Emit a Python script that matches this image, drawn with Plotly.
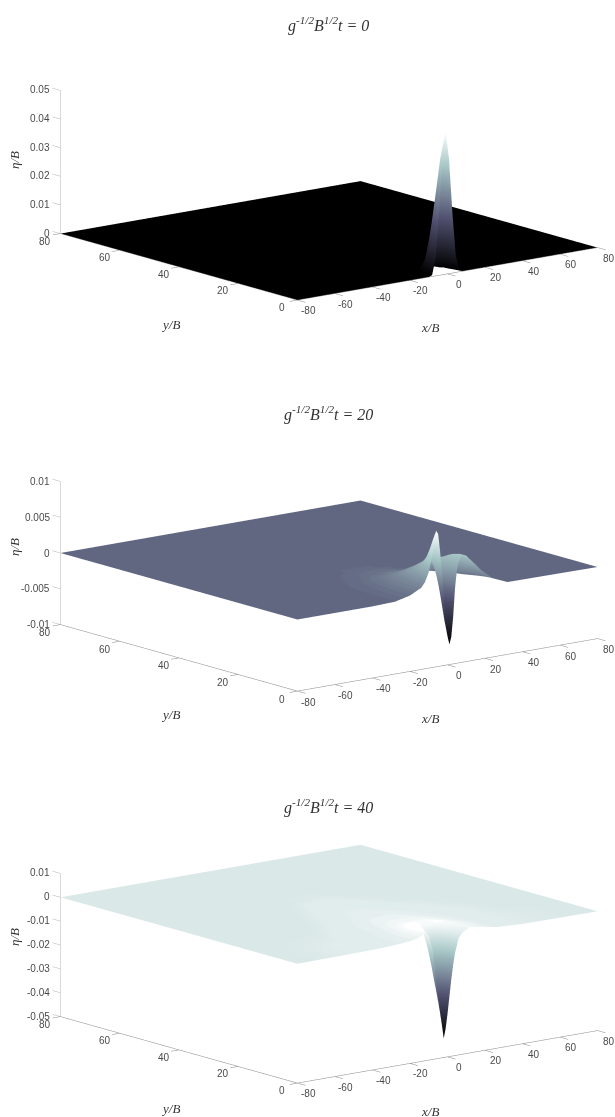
import math
import plotly.graph_objects as go

W, H = 615, 1117
OFF = 0
FW, FH = W - OFF, H - OFF

# ---- data ----
XT0 = [-80, -10, -8.2, -6.4, -4.6, -2.8, -1, .8, 2.6, 4.4, 6.2, 8, 80]
YT0 = [0, 1.8, 3.6, 5.4, 7.2, 9, 80]
ZT0 = [
 [0, 0, .0005, .006, .021, .04, .05, .04, .021, .006, .0005, 0, 0],
 [0, 0, .0003, .0047, .017, .031, .04, .031, .017, .0047, .0003, 0, 0],
 [0, 0, .0001, .0016, .008, .017, .021, .017, .008, .0016, .0001, 0, 0],
 [0, 0, 0, .0002, .0016, .0047, .006, .0047, .0016, .0002, 0, 0, 0],
 [0, 0, 0, 0, .0001, .0003, .0005, .0003, .0001, 0, 0, 0, 0],
 [0] * 13,
 [0] * 13,
]

XT20 = [-80, -40, -28, -20, -14, -12, -10, -8, -7, -6, -5, -4, -3, -2, -1, 0, 1, 2, 3, 4, 5, 6, 7, 8, 10, 12, 18, 24, 32, 80]
YT20 = [0, 1, 2, 3, 4, 6, 10, 15, 20, 28, 35, 80]
ZT20 = [
 [0, 0, .0001, .0006, .0014, .0021, .0034, .0058, .0078, .009, .0085, .0062, .003, -.0005, -.0035, -.006, -.0072, -.0062, -.0035, .0005, .003, .0042, .0048, .005, .0048, .0042, .0024, .001, .0001, 0],
 [0, 0, .0001, .0006, .0014, .0021, .0033, .0054, .007, .0078, .0074, .0056, .0032, .0008, -.002, -.004, -.005, -.0042, -.002, .001, .0032, .0043, .0048, .005, .0048, .0042, .0024, .001, .0001, 0],
 [0, 0, .0001, .0006, .0014, .002, .0031, .0048, .0058, .0064, .0062, .005, .0036, .002, .0001, -.0016, -.0024, -.0018, -.0004, .0018, .0036, .0044, .0048, .0049, .0048, .0042, .0024, .001, .0001, 0],
 [0, 0, .0001, .0006, .0014, .002, .003, .0042, .0048, .0052, .0052, .0047, .004, .0031, .002, .001, .0006, .001, .002, .003, .004, .0045, .0047, .0048, .0046, .004, .0023, .001, .0001, 0],
 [0, 0, .0001, .0006, .0014, .0019, .0028, .0037, .0042, .0045, .0046, .0046, .0044, .004, .0036, .0032, .003, .0032, .0036, .004, .0043, .0045, .0046, .0046, .0044, .0039, .0022, .0009, .0001, 0],
 [0, 0, .0001, .0006, .0014, .0018, .0025, .003, .0033, .0035, .0037, .0039, .004, .0041, .0042, .0042, .0042, .0042, .0042, .0042, .0042, .0041, .0041, .004, .0038, .0034, .0018, .0007, .0001, 0],
 [0, 0, .0001, .0005, .0012, .0015, .0019, .0022, .0023, .0024, .0025, .0026, .0027, .0028, .0028, .0028, .0028, .0028, .0028, .0028, .0027, .0027, .0026, .0026, .0024, .0021, .001, .0004, 0, 0],
 [0, 0, .0001, .0004, .0008, .001, .0011, .0012, .0012, .0013, .0013, .0014, .0014, .0014, .0014, .0014, .0014, .0014, .0014, .0014, .0013, .0013, .0013, .0012, .0011, .0009, .0005, .0001, 0, 0],
 [0, 0, 0, .0002, .0004, .0005, .0006, .0006, .0006, .0006, .0007, .0007, .0007, .0007, .0007, .0007, .0007, .0007, .0007, .0007, .0006, .0006, .0006, .0005, .0004, .0003, .0001, 0, 0, 0],
 [0, 0, 0, 0, .0001, .0001, .0002, .0002, .0002, .0002, .0002, .0002, .0002, .0002, .0002, .0002, .0002, .0002, .0002, .0002, .0002, .0001, .0001, .0001, .0001, 0, 0, 0, 0, 0],
 [0] * 30,
 [0] * 30,
]

XT40 = [-80, -40, -30, -22, -16, -12, -10, -8, -6, -4, -3, -2, -1, 0, 1, 2, 3, 4, 6, 8, 12, 18, 26, 40, 55, 80]
YT40 = [0, 2, 4, 6, 8, 12, 18, 25, 35, 46, 60, 80]
ZT40 = [
 [0, .0003, .0006, .001, .0018, .0035, .002, -.004, -.018, -.03, -.036, -.042, -.038, -.032, -.025, -.018, -.012, -.007, -.001, .001, .0027, .002, .0008, .0002, .0001, 0],
 [0, .0003, .0006, .001, .002, .0045, .0045, 0, -.009, -.018, -.021, -.024, -.022, -.02, -.016, -.012, -.008, -.004, .0005, .002, .003, .002, .0008, .0002, .0001, 0],
 [0, .0003, .0006, .001, .0022, .005, .0062, .0048, .0005, -.004, -.0056, -.007, -.0066, -.006, -.0046, -.003, -.0012, .0005, .0025, .003, .003, .002, .0008, .0002, .0001, 0],
 [0, .0003, .0006, .001, .0022, .0045, .0052, .0055, .0045, .0035, .0032, .003, .003, .003, .0032, .0035, .0038, .004, .004, .0038, .003, .002, .0008, .0002, .0001, 0],
 [0, .0003, .0006, .001, .002, .0036, .004, .0042, .0042, .004, .0039, .0038, .0038, .0038, .0038, .0038, .0038, .0038, .0038, .0035, .0028, .0018, .0008, .0002, .0001, 0],
 [0, .0002, .0005, .0009, .0016, .0024, .0027, .0029, .003, .003, .003, .003, .003, .003, .003, .003, .003, .003, .0029, .0027, .0023, .0015, .0007, .0002, .0001, 0],
 [0, .0001, .0003, .0007, .0012, .0016, .0018, .0019, .002, .002, .002, .002, .002, .002, .002, .002, .002, .002, .0019, .0018, .0015, .001, .0005, .0002, 0, 0],
 [0, 0, .0001, .0003, .0006, .0009, .001, .0011, .0012, .0012, .0012, .0012, .0012, .0012, .0012, .0012, .0012, .0012, .0011, .001, .0009, .0006, .0003, .0001, 0, 0],
 [0, 0, 0, .0001, .0002, .0004, .0005, .0005, .0006, .0006, .0006, .0006, .0006, .0006, .0006, .0006, .0006, .0006, .0005, .0005, .0004, .0002, .0001, 0, 0, 0],
 [0, 0, 0, 0, 0, 0, .0001, .0001, .0001, .0001, .0001, .0001, .0001, .0001, .0001, .0001, .0001, .0001, .0001, .0001, 0, 0, 0, 0, 0, 0],
 [0] * 26,
 [0] * 26,
]

X_TICKS = [-80, -60, -40, -20, 0, 20, 40, 60, 80]
Y_TICKS = [0, 20, 40, 60, 80]
Z_TICKS_0 = [0, 0.01, 0.02, 0.03, 0.04, 0.05]
Z_TICKS_20 = [-0.01, -0.005, 0, 0.005, 0.01]
Z_TICKS_40 = [-0.05, -0.04, -0.03, -0.02, -0.01, 0, 0.01]
TITLES = ["0", "20", "40"]
COLOR_LIMITS = [(0, 0.05), (-0.0072, 0.009), (-0.042, 0.0047)]

# ---- styling ----
BONE = [(0, (0, 0, 0)), (.375, (.3194, .3194, .4444)), (.75, (.6528, .7778, .7778)), (1, (1, 1, 1))]
def bone(t):
    for (a, ca), (b, cb) in zip(BONE, BONE[1:]):
        if t <= b:
            f = (t - a) / (b - a)
            return "rgb(%d,%d,%d)" % tuple(round(255 * (p + f * (q - p))) for p, q in zip(ca, cb))
    return "rgb(255,255,255)"
N = 64
SCALE = []
for i in range(N):
    c = bone((i + .5) / N if 0 < i < N - 1 else i / (N - 1))
    SCALE += [[i / N, c], [(i + 1) / N, c]]

EYE_D = 4.0
ZOOM = 2.39
EL = math.radians(12.8)
AZ = math.radians(231.7)
EYE = dict(x=EYE_D * math.cos(EL) * math.cos(AZ), y=EYE_D * math.cos(EL) * math.sin(AZ), z=EYE_D * math.sin(EL))
DOM_H = 320
CENTERS = [168.5, 560, 951.5]
LEFT = 43
XT_LEN, YT_LEN = 4.2, 2.7
AX_COL, ZAX_COL = "#8a8a8a", "#b4b4b4"
TICK_FONT = dict(family="Liberation Sans, Arial", size=10, color="#4a4a4a")
SERIF = dict(family="Liberation Serif, Times New Roman", size=13, color="#333333")
TITLE_FONT = dict(family="Liberation Serif, Times New Roman", size=16, color="#333333")

def px(v):
    return (v - OFF) / FW
def py(v):
    return 1 - (v - OFF) / FH

fig = go.Figure()
layout = dict(width=FW, height=FH, margin=dict(l=0, r=0, t=0, b=0), showlegend=False,
              paper_bgcolor="white", annotations=[])

def fmt(v):
    return "%g" % v

panels = [(XT0, YT0, ZT0, Z_TICKS_0), (XT20, YT20, ZT20, Z_TICKS_20), (XT40, YT40, ZT40, Z_TICKS_40)]
LABEL_Y = [(160, 324, 327, 24), (547, 714, 718, 414), (937, 1108, 1111, 806)]

for k, (xs, ys, zs, zt) in enumerate(panels):
    name = "scene" if k == 0 else "scene%d" % (k + 1)
    zmin, zmax = zt[0], zt[-1]
    span = zmax - zmin
    fig.add_trace(go.Surface(x=xs, y=ys, z=zs, colorscale=SCALE, showscale=False, scene=name,
                             cmin=COLOR_LIMITS[k][0], cmax=COLOR_LIMITS[k][1],
                             hoverinfo="skip",
                             lighting=dict(ambient=1, diffuse=0, specular=0, fresnel=0, roughness=1),
                             contours=dict(x=dict(highlight=False), y=dict(highlight=False), z=dict(highlight=False))))
    # axis lines and tick marks
    lx, ly, lz = [], [], []
    def seg(a, b):
        lx.extend([a[0], b[0], None]); ly.extend([a[1], b[1], None]); lz.extend([a[2], b[2], None])
    seg((-80, 0, zmin), (80, 0, zmin))
    seg((-80, 0, zmin), (-80, 80, zmin))
    for v in X_TICKS:
        seg((v, 0, zmin), (v, -YT_LEN, zmin))
    for v in Y_TICKS:
        seg((-80, v, zmin), (-80 - XT_LEN, v, zmin))
    fig.add_trace(go.Scatter3d(x=lx, y=ly, z=lz, mode="lines", line=dict(color=AX_COL, width=1),
                               scene=name, hoverinfo="skip"))
    zx, zy, zz = [], [], []
    zx += [-80, -80, None]; zy += [80, 80, None]; zz += [zmin, zmax, None]
    for v in zt:
        zx += [-80, -80, None]; zy += [80, 80 + YT_LEN, None]; zz += [v, v, None]
    fig.add_trace(go.Scatter3d(x=zx, y=zy, z=zz, mode="lines", line=dict(color=ZAX_COL, width=1),
                               scene=name, hoverinfo="skip"))
    # tick labels
    anns = []
    for v in X_TICKS:
        anns.append(dict(x=v, y=0, z=zmin, text=fmt(v), showarrow=False, font=TICK_FONT, xanchor="center", yanchor="middle", xshift=11, yshift=-11))
    for v in Y_TICKS:
        anns.append(dict(x=-80, y=v, z=zmin, text=fmt(v), showarrow=False, font=TICK_FONT, xanchor="center", yanchor="middle", xshift=-15, yshift=-8))
    for v in zt:
        anns.append(dict(x=-80, y=80, z=v, text=fmt(v), showarrow=False, font=TICK_FONT, xanchor="right", yanchor="middle", xshift=-8))
    axis = dict(visible=False, showspikes=False)
    cy = CENTERS[k]
    layout[name] = dict(
        domain=dict(x=[px(LEFT), 1], y=[py(cy + DOM_H / 2), py(cy - DOM_H / 2)]),
        xaxis=dict(axis, range=[-85, 85]),
        yaxis=dict(axis, range=[-3, 83]),
        zaxis=dict(axis, range=[zmin - .02 * span, zmax + .02 * span]),
        aspectmode="manual",
        aspectratio=dict(x=ZOOM * 170 / 160, y=ZOOM * 86 / 80, z=ZOOM * .384 * 1.04),
        camera=dict(eye=EYE, up=dict(x=0, y=0, z=1), center=dict(x=0, y=0, z=0),
                    projection=dict(type="orthographic")),
        annotations=anns,
    )
    ey, yy, xy, ty = LABEL_Y[k]
    layout["annotations"] += [
        dict(x=px(14), y=py(ey), xref="paper", yref="paper", text="<i>η/B</i>", textangle=-90,
             xanchor="center", yanchor="middle", showarrow=False, font=SERIF),
        dict(x=px(170), y=py(yy), xref="paper", yref="paper", text="<i>y/B</i>", xanchor="center", yanchor="middle", showarrow=False, font=SERIF),
        dict(x=px(430), y=py(xy), xref="paper", yref="paper", text="<i>x/B</i>", xanchor="center", yanchor="middle", showarrow=False, font=SERIF),
        dict(x=px(328), y=py(ty), xref="paper", yref="paper", xanchor="center", yanchor="middle",
             text="<i>g<sup>-1/2</sup>B<sup>1/2</sup>t = %s</i>" % TITLES[k], showarrow=False, font=TITLE_FONT),
    ]

fig.update_layout(**layout)
fig.write_html("out.html", config=dict(displayModeBar=False),
               post_script="document.body.style.margin='0';")
